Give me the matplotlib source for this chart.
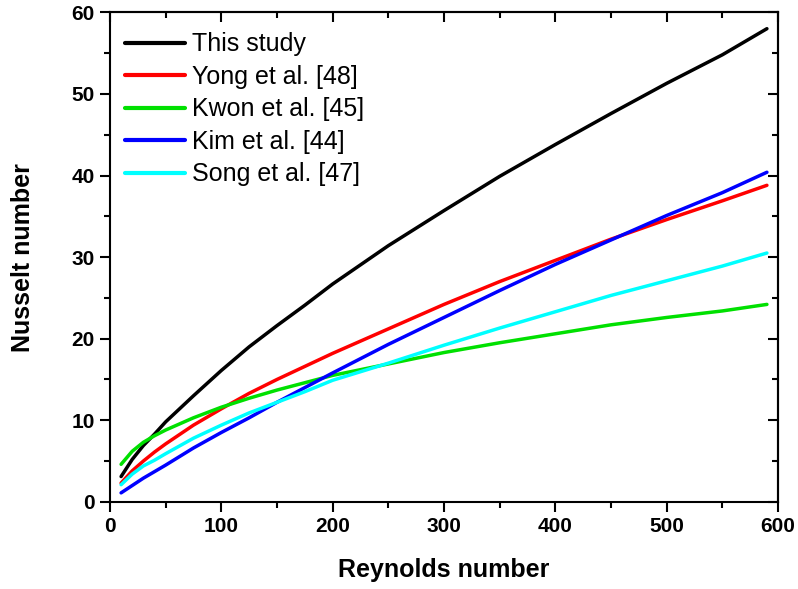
import matplotlib
matplotlib.use("Agg")
import matplotlib.pyplot as plt
from matplotlib.ticker import MultipleLocator

plt.rcParams['font.family'] = ['Liberation Sans', 'DejaVu Sans']

re = [10, 20, 30, 40, 50, 75, 100, 125, 150, 175, 200, 250, 300, 350, 400, 450, 500, 550, 590]
this_study = [3.1, 5.2, 6.9, 8.3, 9.8, 13.0, 16.1, 19.0, 21.6, 24.1, 26.7, 31.4, 35.7, 39.9, 43.8, 47.6, 51.3, 54.8, 58.0]
yong = [2.3, 3.8, 5.0, 6.1, 7.1, 9.4, 11.4, 13.3, 15.0, 16.6, 18.2, 21.2, 24.2, 27.0, 29.6, 32.2, 34.6, 36.9, 38.8]
kwon = [4.6, 6.2, 7.3, 8.1, 8.8, 10.3, 11.6, 12.7, 13.7, 14.6, 15.5, 16.9, 18.3, 19.5, 20.6, 21.7, 22.6, 23.4, 24.2]
kim = [1.1, 2.0, 2.9, 3.7, 4.5, 6.6, 8.5, 10.3, 12.2, 14.0, 15.8, 19.3, 22.6, 25.9, 29.1, 32.1, 35.1, 37.9, 40.4]
song = [2.1, 3.4, 4.4, 5.1, 5.9, 7.8, 9.4, 10.9, 12.2, 13.5, 14.9, 17.0, 19.2, 21.3, 23.3, 25.3, 27.1, 28.9, 30.5]

labels = ['This study', 'Yong et al. [48]', 'Kwon et al. [45]', 'Kim et al. [44]', 'Song et al. [47]']
colors = ['#000000', '#ff0000', '#00e000', '#0000ff', '#00ffff']
series = [this_study, yong, kwon, kim, song]

fig = plt.figure(figsize=(7.98, 5.89), dpi=100)
ax = fig.add_axes([0.1378, 0.148, 0.8372, 0.831])

for y, c, l in zip(series, colors, labels):
    ax.plot(re, y, color=c, lw=2.5, label=l, solid_capstyle='round')

ax.set_xlim(0, 600)
ax.set_ylim(0, 60)
ax.xaxis.set_major_locator(MultipleLocator(100))
ax.xaxis.set_minor_locator(MultipleLocator(50))
ax.yaxis.set_major_locator(MultipleLocator(10))
ax.yaxis.set_minor_locator(MultipleLocator(5))

for s in ax.spines.values():
    s.set_linewidth(1.5)

ax.tick_params(which='major', direction='out', length=7, width=1.5, labelsize=15, pad=4)
ax.tick_params(which='minor', direction='out', length=4, width=1.5)
for lab in ax.get_xticklabels() + ax.get_yticklabels():
    lab.set_fontweight('bold')

secx = ax.secondary_xaxis('top')
secx.xaxis.set_major_locator(MultipleLocator(100))
secx.xaxis.set_minor_locator(MultipleLocator(50))
secx.tick_params(which='major', direction='in', length=7, width=1.5, labeltop=False)
secx.tick_params(which='minor', direction='in', length=4, width=1.5)
secx.spines['top'].set_linewidth(1.5)

secy = ax.secondary_yaxis('right')
secy.yaxis.set_major_locator(MultipleLocator(10))
secy.yaxis.set_minor_locator(MultipleLocator(5))
secy.tick_params(which='major', direction='in', length=7, width=1.5, labelright=False)
secy.tick_params(which='minor', direction='in', length=4, width=1.5)
secy.spines['right'].set_linewidth(1.5)

ax.set_xlabel('Reynolds number', fontsize=18, fontweight='bold', labelpad=16)
ax.set_ylabel('Nusselt number', fontsize=18, fontweight='bold', labelpad=26)

leg = ax.legend(loc='upper left', bbox_to_anchor=(-0.008, 1.0), frameon=False, fontsize=18,
                handlelength=2.4, handletextpad=0.3, labelspacing=0.34, borderaxespad=0.45,
                borderpad=0.35)
for h in leg.get_lines():
    h.set_linewidth(3.0)

fig.savefig('out.png', dpi=100)
